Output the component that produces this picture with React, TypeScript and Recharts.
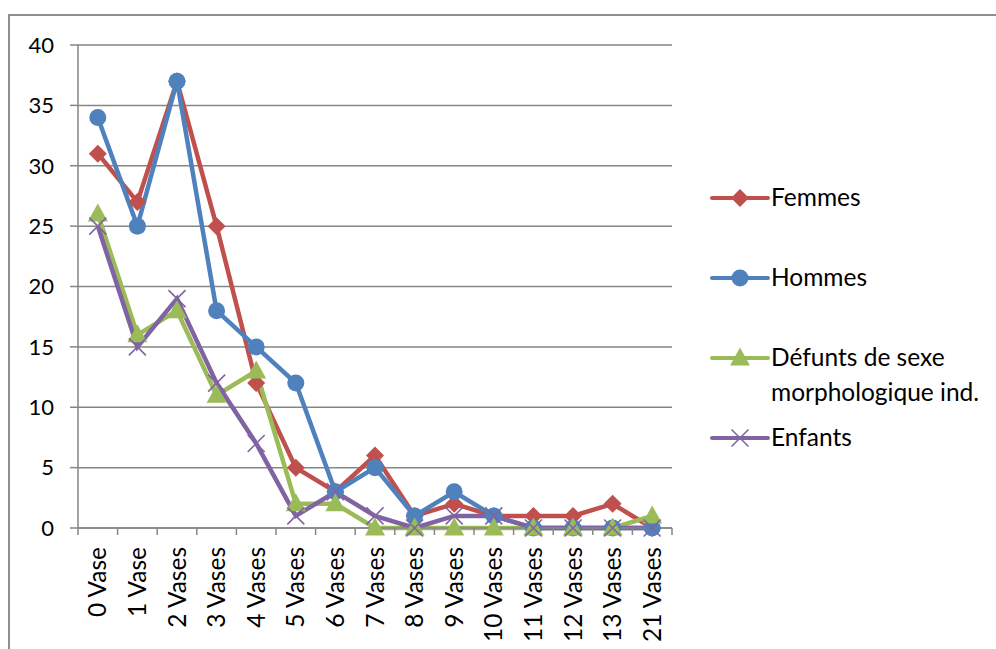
import React from 'react';
import { LineChart, Line, XAxis, YAxis, CartesianGrid } from 'recharts';

const categories = ['0 Vase', '1 Vase', '2 Vases', '3 Vases', '4 Vases', '5 Vases', '6 Vases', '7 Vases', '8 Vases', '9 Vases', '10 Vases', '11 Vases', '12 Vases', '13 Vases', '21 Vases'];
const femmes = [31, 27, 37, 25, 12, 5, 3, 6, 1, 2, 1, 1, 1, 2, 0];
const hommes = [34, 25, 37, 18, 15, 12, 3, 5, 1, 3, 1, 0, 0, 0, 0];
const defunts = [26, 16, 18, 11, 13, 2, 2, 0, 0, 0, 0, 0, 0, 0, 1];
const enfants = [25, 15, 19, 12, 7, 1, 3, 1, 0, 1, 1, 0, 0, 0, 0];
const yTicks = [0, 5, 10, 15, 20, 25, 30, 35, 40];
const boundaryTicks = [0, 1, 2, 3, 4, 5, 6, 7, 8, 9, 10, 11, 12, 13, 14, 15];

const seriesNames = ['Femmes', 'Hommes', 'Défunts de sexe morphologique ind.', 'Enfants'];
const seriesLegendLines = [['Femmes'], ['Hommes'], ['Défunts de sexe', 'morphologique ind.'], ['Enfants']];
const colors = ['#C0504D', '#4F81BD', '#9BBB59', '#8064A2'];

const data = categories.map((c, i) => ({
  cat: c,
  pos: i + 0.5,
  femmes: femmes[i],
  hommes: hommes[i],
  defunts: defunts[i],
  enfants: enfants[i],
}));

const FONT = 'Lato, "Liberation Sans", sans-serif';
const GRID = '#868686';

type MarkerKind = 'diamond' | 'circle' | 'triangle' | 'cross';

function Marker({ kind, cx, cy, color }: { kind: MarkerKind; cx: number; cy: number; color: string }) {
  if (cx == null || cy == null || isNaN(cx) || isNaN(cy)) return null;
  if (kind === 'diamond') {
    const s = 9;
    return <polygon points={`${cx},${cy - s} ${cx + s},${cy} ${cx},${cy + s} ${cx - s},${cy}`} fill={color} />;
  }
  if (kind === 'circle') {
    return <circle cx={cx} cy={cy} r={8.5} fill={color} />;
  }
  if (kind === 'triangle') {
    return <polygon points={`${cx},${cy - 10.5} ${cx + 10},${cy + 7.5} ${cx - 10},${cy + 7.5}`} fill={color} />;
  }
  const s = 8.5;
  return (
    <g stroke={color} strokeWidth={1.6}>
      <line x1={cx - s} y1={cy - s} x2={cx + s} y2={cy + s} />
      <line x1={cx - s} y1={cy + s} x2={cx + s} y2={cy - s} />
    </g>
  );
}

const kinds: MarkerKind[] = ['diamond', 'circle', 'triangle', 'cross'];
const keys = ['femmes', 'hommes', 'defunts', 'enfants'];

const XTick = (props: any) => {
  const { x, y, payload } = props;
  return (
    <text
      x={x}
      y={y}
      transform={`rotate(-90, ${x}, ${y})`}
      textAnchor="end"
      dy="0.35em"
      fill="#000"
      fontSize={24.5}
      fontFamily={FONT}
    >
      {payload.value}
    </text>
  );
};

const EmptyTick = () => <g />;

function LegendBlock() {
  const centers = [198, 278, 358, 438];
  return (
    <div style={{ position: 'fixed', left: 0, top: 0, width: 996, height: 649, pointerEvents: 'none' }}>
      {seriesNames.map((name, i) => (
        <div key={name}>
          <svg style={{ position: 'fixed', left: 710, top: centers[i] - 12 }} width={60} height={24}>
            <line x1={2} y1={12} x2={58} y2={12} stroke={colors[i]} strokeWidth={4} strokeLinecap="round" />
            <Marker kind={kinds[i]} cx={30} cy={12} color={colors[i]} />
          </svg>
          {seriesLegendLines[i].map((ln, j) => (
            <div
              key={ln}
              style={{
                position: 'fixed',
                left: 771,
                top: centers[i] - 16 + j * 35,
                height: 30,
                lineHeight: '30px',
                fontFamily: FONT,
                fontSize: 24.5,
                color: '#000',
                whiteSpace: 'nowrap',
              }}
            >
              {ln}
            </div>
          ))}
        </div>
      ))}
    </div>
  );
}

export default function App() {
  return (
    <div>
      <div
        style={{
          position: 'fixed',
          left: 8,
          top: 14,
          width: 1100,
          height: 800,
          border: '2px solid #8e8e8e',
          background: '#fff',
        }}
      />
      <div style={{ position: 'fixed', left: 0, top: 0 }}>
        <LineChart
          width={996}
          height={649}
          data={data}
          margin={{ top: 45, right: 324, left: 0, bottom: 0 }}
        >
          <CartesianGrid xAxisId="cat" vertical={false} stroke={GRID} strokeWidth={1.5} />
          <XAxis
            xAxisId="b"
            dataKey="pos"
            type="number"
            domain={[0, 15]}
            ticks={boundaryTicks}
            allowDataOverflow
            height={7}
            axisLine={{ stroke: GRID, strokeWidth: 1.5 }}
            tickLine={{ stroke: GRID, strokeWidth: 1.5 }}
            tickSize={7}
            tick={<EmptyTick />}
          />
          <XAxis
            xAxisId="cat"
            dataKey="cat"
            interval={0}
            height={114}
            padding={{ left: 19.8, right: 19.8 }}
            axisLine={false}
            tickLine={false}
            tickSize={6}
            tickMargin={6}
            tick={<XTick />}
          />
          <YAxis
            domain={[0, 40]}
            ticks={yTicks}
            width={78}
            axisLine={{ stroke: GRID, strokeWidth: 1.5 }}
            tickLine={{ stroke: GRID, strokeWidth: 1.5 }}
            tickSize={8}
            tickMargin={16}
            tick={{ fill: '#000', fontSize: 22, fontFamily: FONT }}
          />
          <Line
            xAxisId="b"
            dataKey="femmes"
            stroke="none"
            dot={false}
            activeDot={false}
            legendType="none"
            isAnimationActive={false}
          />
          {keys.map((k, i) => (
            <Line
              key={k}
              xAxisId="cat"
              dataKey={k}
              name={seriesNames[i]}
              stroke={colors[i]}
              strokeWidth={4.5}
              isAnimationActive={false}
              dot={(p: any) => <Marker key={`${k}-${p.index}`} kind={kinds[i]} cx={p.cx} cy={p.cy} color={colors[i]} />}
              activeDot={false}
            />
          ))}
        </LineChart>
      </div>
      <LegendBlock />
    </div>
  );
}
